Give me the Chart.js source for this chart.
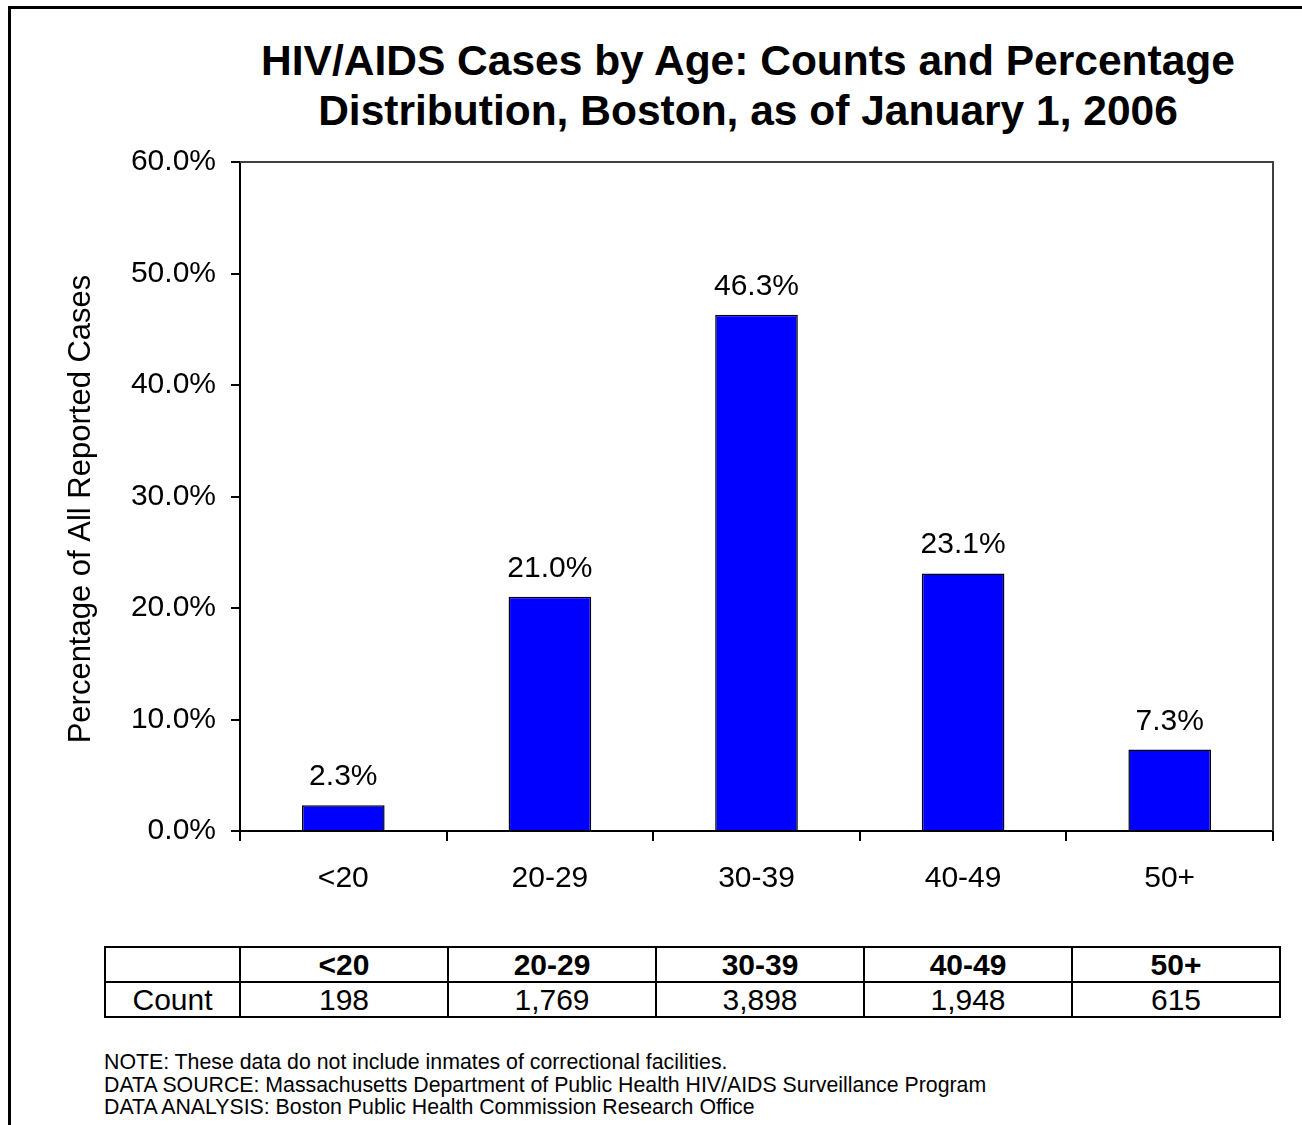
<!DOCTYPE html>
<html>
<head>
<meta charset="utf-8">
<script src="https://cdn.jsdelivr.net/npm/chart.js@4.4.0/dist/chart.umd.min.js"></script>
<style>
  html, body { margin: 0; padding: 0; background: #fff; overflow: hidden; }
  body { width: 1302px; height: 1125px; position: relative; font-family: "Liberation Sans", Arial, sans-serif; color: #000; }
  #frame { position: absolute; left: 8px; top: 6px; width: 1400px; height: 1300px; border: 3px solid #000; box-sizing: border-box; }
  #title { position: absolute; left: 148px; width: 1200px; top: 36px; text-align: center; font-weight: bold; font-size: 42.5px; line-height: 50px; }
  #chart { position: absolute; left: 0; top: 0; }
  #counts { position: absolute; left: 104px; top: 946px; border-collapse: collapse; font-size: 30px; }
  #counts td { border: 2.5px solid #000; height: 33px; padding: 0; text-align: center; line-height: 33px; }
  #counts td:first-child { width: 133px; }
  #counts td.c { width: 206px; }
  #counts tr.head td { font-weight: bold; }
  #notes { position: absolute; left: 104px; top: 1051px; font-size: 21.3px; line-height: 22.5px; white-space: nowrap; }
</style>
</head>
<body>
<div id="frame"></div>
<div id="title">HIV/AIDS Cases by Age: Counts and Percentage<br>Distribution, Boston, as of January 1, 2006</div>
<canvas id="chart" width="1302" height="920"></canvas>
<table id="counts"></table>
<div id="notes">
  NOTE: These data do not include inmates of correctional facilities.<br>
  DATA SOURCE: Massachusetts Department of Public Health HIV/AIDS Surveillance Program<br>
  DATA ANALYSIS: Boston Public Health Commission Research Office
</div>
<script>
// Data
const ageGroups = ['<20', '20-29', '30-39', '40-49', '50+'];
const percentOfCases = [2.3, 21.0, 46.3, 23.1, 7.3];
const caseCounts = ['198', '1,769', '3,898', '1,948', '615'];
const yTicks = { min: 0, max: 60, step: 10 };
const yTitle = 'Percentage of All Reported Cases';

const FONT = '"Liberation Sans", Arial, sans-serif';

// Count table under the chart
const table = document.getElementById('counts');
table.innerHTML =
    '<tr class="head"><td></td>' + ageGroups.map(g => `<td class="c">${g.replace('<', '&lt;')}</td>`).join('') + '</tr>' +
    '<tr><td>Count</td>' + caseCounts.map(c => `<td class="c">${c}</td>`).join('') + '</tr>';

// Labels above bars, y title, and the thin frame round the plot area
const barLabels = {
    id: 'barLabels',
    afterDatasetsDraw(chart) {
        const ctx = chart.ctx;
        const meta = chart.getDatasetMeta(0);
        ctx.save();
        ctx.font = `30px ${FONT}`;
        ctx.fillStyle = '#000';
        ctx.textAlign = 'center';
        ctx.textBaseline = 'alphabetic';
        meta.data.forEach((bar, i) => {
            ctx.fillText(percentOfCases[i].toFixed(1) + '%', bar.x, bar.y - 20);
        });
        ctx.restore();
    },
    afterDraw(chart) {
        const { ctx, chartArea: a } = chart;
        ctx.save();
        ctx.strokeStyle = '#404040';
        ctx.lineWidth = 2;
        ctx.beginPath();
        ctx.moveTo(a.left, a.top);
        ctx.lineTo(a.right, a.top);
        ctx.lineTo(a.right, a.bottom);
        ctx.stroke();

        // y axis title, sits a bit below the plot centre in the original
        ctx.translate(81, 509);
        ctx.rotate(-Math.PI / 2);
        ctx.font = `31px ${FONT}`;
        ctx.fillStyle = '#000';
        ctx.textAlign = 'center';
        ctx.textBaseline = 'middle';
        ctx.fillText(yTitle, 0, 0);
        ctx.restore();
    }
};

new Chart(document.getElementById('chart'), {
    type: 'bar',
    data: {
        labels: ageGroups,
        datasets: [{
            data: percentOfCases,
            backgroundColor: '#0000ff',
            borderColor: '#000',
            borderWidth: 1.5,
            categoryPercentage: 1,
            barPercentage: 0.4
        }]
    },
    options: {
        responsive: false,
        animation: false,
        devicePixelRatio: 1,
        layout: { padding: { top: 162, right: 29, left: 0, bottom: 0 } },
        plugins: { legend: { display: false }, tooltip: { enabled: false } },
        scales: {
            x: {
                offset: true,
                grid: { offset: true, drawOnChartArea: false, drawTicks: true, tickLength: 10, color: '#000', lineWidth: 2 },
                border: { color: '#000', width: 2 },
                ticks: { color: '#000', font: { family: FONT, size: 30 }, padding: 20, maxRotation: 0 },
                afterFit: s => { s.height = 89; }
            },
            y: {
                min: yTicks.min,
                max: yTicks.max,
                grid: { drawOnChartArea: false, drawTicks: true, tickLength: 9, color: '#000', lineWidth: 2 },
                border: { color: '#000', width: 2 },
                ticks: {
                    stepSize: yTicks.step,
                    color: '#000',
                    font: { family: FONT, size: 30 },
                    padding: 15,
                    callback: v => v.toFixed(1) + '%'
                },
                afterFit: s => { s.width = 240; }
            }
        }
    },
    plugins: [barLabels]
});
</script>
</body>
</html>
